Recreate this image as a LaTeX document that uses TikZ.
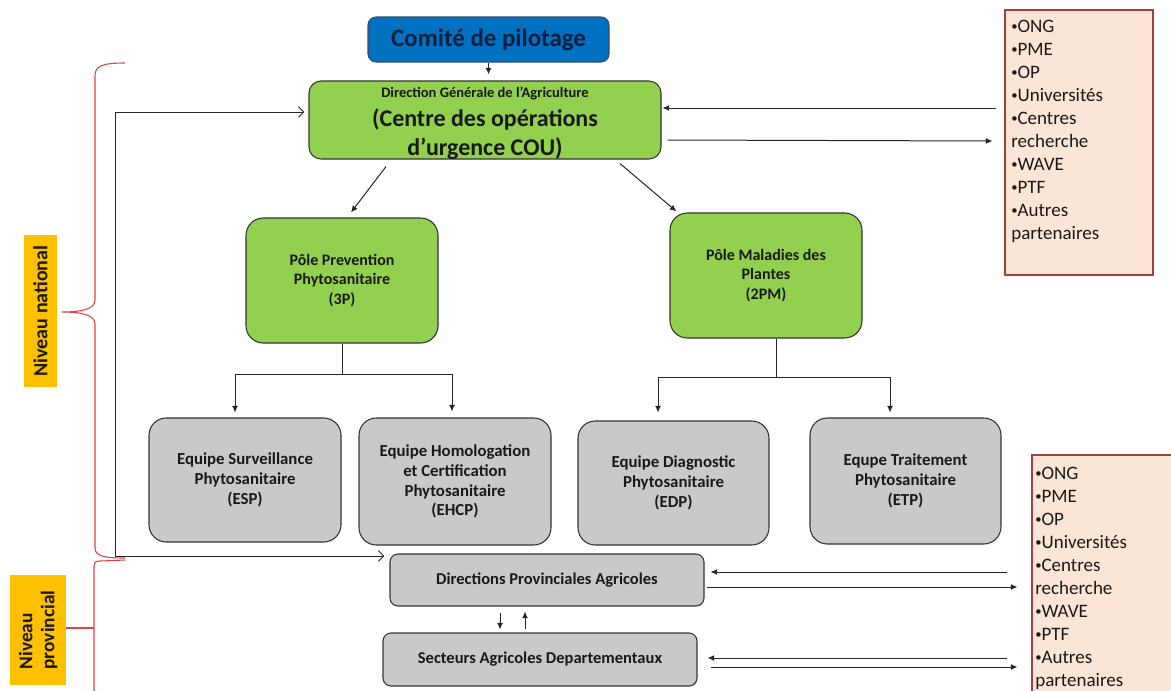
\documentclass[tikz,border=0pt]{standalone}
\usepackage{fontspec}
\setmainfont{Carlito}
\usetikzlibrary{arrows.meta,calc}
\definecolor{gfill}{HTML}{92D050}
\definecolor{bfill}{HTML}{0070C0}
\definecolor{greyfill}{HTML}{C9C9C9}
\definecolor{pinkfill}{HTML}{FBE5D6}
\definecolor{pinkedge}{HTML}{A0413D}
\definecolor{bracered}{HTML}{E0404A}
\definecolor{orangefill}{HTML}{FFC000}
\definecolor{edgec}{HTML}{333333}
\definecolor{navy}{HTML}{0F1E3C}
\newcommand\mybul{{\fontsize{9.5}{9.5}\selectfont\raisebox{1.2pt}{•}}}
\begin{document}
\begin{tikzpicture}[x=0.75pt,y=-0.75pt,
  every node/.style={text=black!90},
  boxbase/.style={draw=edgec, line width=0.8pt, align=center, font=\bfseries\fontsize{12.6}{14.8}\selectfont, inner sep=0pt},
  greenbox/.style={boxbase, fill=gfill, rounded corners=13pt, font=\bfseries\fontsize{12}{14.6}\selectfont},
  greybox/.style={boxbase, fill=greyfill, rounded corners=13pt},
  flatbox/.style={boxbase, fill=greyfill, rounded corners=6pt, font=\bfseries\fontsize{12.4}{14}\selectfont},
  partbox/.style={draw=pinkedge, fill=pinkfill, line width=0.8pt, inner sep=0pt},
  parttext/.style={anchor=north west, align=left, inner sep=0pt, font=\fontsize{14.25}{17.25}\selectfont},
  lvl/.style={fill=orangefill, inner sep=0pt, font=\bfseries, rotate=90},
  conn/.style={draw=black!85, line width=0.75pt},
  arr/.style={conn, -{Latex[length=5pt,width=4.5pt]}},
  openarr/.style={conn, {Straight Barb[length=4pt,width=8pt]}-{Straight Barb[length=4pt,width=8pt]}},
  brace/.style={draw=bracered, line width=0.8pt}
]
\useasboundingbox (0,0) rectangle (1171,690);
\clip (0,0) rectangle (1171,690);
\fill[white] (0,0) rectangle (1171,690);

% top
\node[draw=navy!80, fill=bfill, rounded corners=6pt, line width=0.8pt, minimum width=180.75pt, minimum height=33.75pt, inner sep=0pt,
      font=\bfseries\fontsize{18.7}{22}\selectfont, text=navy] (com) at (488.5,39.5) {Comité de pilotage};
\node[greenbox, rounded corners=9pt, minimum width=264pt, minimum height=58.5pt] (dga) at (485,120) {};
\node[anchor=base, inner sep=0pt, font=\bfseries\fontsize{10.9}{13}\selectfont] (dgat1) at (485,97) {Direction Générale de l’Agriculture};
\node[anchor=base, inner sep=0pt, font=\bfseries\fontsize{18}{21.75}\selectfont] (dgat2) at (485,126) {(Centre des opérations};
\node[anchor=base, inner sep=0pt, font=\bfseries\fontsize{18}{21.75}\selectfont] (dgat3) at (485,155) {d’urgence COU)};

% poles
\node[greenbox, minimum width=144pt, minimum height=93.75pt] (p3) at (342,280.5) {Pôle Prevention\\Phytosanitaire\\(3P)};
\node[greenbox, minimum width=144pt, minimum height=93.75pt] (pm) at (766,275.5) {Pôle Maladies des\\Plantes\\(2PM)};

% teams
\node[greybox, minimum width=144pt, minimum height=93pt] (esp) at (245,480) {Equipe Surveillance\\Phytosanitaire\\(ESP)};
\node[greybox, minimum width=144pt, minimum height=95.25pt] (ehcp) at (455,481.5) {Equipe Homologation\\et Certification\\Phytosanitaire\\(EHCP)};
\node[greybox, minimum width=143.25pt, minimum height=93pt] (edp) at (673.5,483) {Equipe Diagnostic\\Phytosanitaire\\(EDP)};
\node[greybox, minimum width=143.25pt, minimum height=94.5pt] (etp) at (905.5,481) {Equpe Traitement\\Phytosanitaire\\(ETP)};

% provincial
\node[flatbox, minimum width=235.5pt, minimum height=39pt] (dpa) at (547,580) {Directions Provinciales Agricoles};
\node[flatbox, minimum width=235.5pt, minimum height=39.75pt] (sad) at (540,659.5) {Secteurs Agricoles Departementaux};

% partners
\node[partbox, minimum width=111pt, minimum height=198.75pt] (pa) at (1079,142.5) {};
\node[parttext] (pat) at (1011,19.5) {\mybul ONG\\\mybul PME\\\mybul OP\\\mybul Universités\\\mybul Centres\\recherche\\\mybul WAVE\\\mybul PTF\\\mybul Autres\\partenaires};
\node[partbox, minimum width=118.5pt, minimum height=187.5pt] (pb) at (1111,580) {};
\node[parttext] (pbt) at (1035,466.5) {\mybul ONG\\\mybul PME\\\mybul OP\\\mybul Universités\\\mybul Centres\\recherche\\\mybul WAVE\\\mybul PTF\\\mybul Autres\\partenaires};

% level labels
\node[lvl, minimum width=114pt, minimum height=24.75pt, font=\bfseries\fontsize{15}{17}\selectfont] (lnat) at (40.5,311) {Niveau national};
\node[lvl, minimum width=82.5pt, minimum height=42pt, align=left, font=\bfseries\fontsize{14.5}{16.5}\selectfont] (lprov) at (38,630) {Niveau\\provincial};

% braces
\draw[brace] (125,63) .. controls (102,63) and (95,66) .. (95,76) -- (95,300)
  .. controls (95,309) and (82,312) .. (62,312) .. controls (82,312) and (95,315) .. (95,324)
  -- (95,548) .. controls (95,556) and (104,558) .. (125,558);
\draw[brace] (125,560) -- (100,561) .. controls (95,561) and (94,563) .. (94,566) -- (94,692);
\draw[brace] (66,628) -- (94,628);

% connectors
\draw[arr] (com.south) -- ($(dga.north)+(3.5,-6)$);
\draw[arr] ($(dga.south)+(-99,7)$) -- ($(p3.north)+(9,-5)$);
\draw[arr] ($(dga.south)+(135,4)$) -- ($(pm.north west)+(7,-1)$);

\draw[conn] (p3.south) -- ++(0,31) coordinate (j1);
\draw[arr] (j1) -| ($(esp.north)+(-10,-5)$);
\draw[arr] (j1) -| ($(ehcp.north)+(-3,-6)$);
\draw[conn] ($(pm.south)+(10,0)$) -- ++(0,39) coordinate (j2);
\draw[arr] (j2) -| ($(edp.north)+(-15.5,-8)$);
\draw[arr] (j2) -| ($(etp.north)+(-15.5,-5)$);

\coordinate (lc1) at (115,112);
\coordinate (lc2) at (115,556);
\draw[openarr] ($(lc1 -| dga.west)+(-4,0)$) -- (lc1) -- (lc2) -- ($(lc2 -| dpa.west)+(-5,0)$);

\draw[arr] ($(pa.west)+(-8,-34.5)$) -- ($(dga.east)+(1,-12)$);
\draw[arr] ($(dga.east)+(6,20)$) -- ($(pa.west)+(-12,-1.5)$);

\draw[arr] ($(pb.west)+(-24,-8)$) -- ($(dpa.east)+(6,-8)$);
\draw[arr] ($(dpa.east)+(2,7)$) -- ($(pb.west)+(-14,7)$);
\draw[arr] ($(pb.west)+(-24,78)$) -- ($(sad.east)+(10,-1.5)$);
\draw[arr] ($(sad.east)+(13,7.5)$) -- ($(pb.west)+(-14,87)$);

\draw[arr] ($(dpa.south)+(-47,6)$) -- ($(sad.north)+(-40,-3)$);
\draw[arr] ($(sad.north)+(-15,-3)$) -- ($(dpa.south)+(-22,5)$);
\end{tikzpicture}
\end{document}
